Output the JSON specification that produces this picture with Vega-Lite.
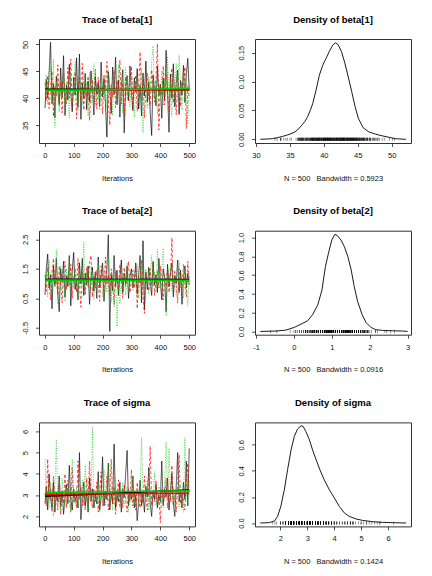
{
"$schema":"https://vega.github.io/schema/vega-lite/v6.json",
"padding":{"left":20,"top":14,"right":5,"bottom":5},
"background":"white",
"config":{
 "font":"Liberation Sans",
 "view":{"stroke":"#333","strokeWidth":1},
 "axis":{"domain":false,"grid":false,"tickColor":"#222","tickSize":3.5,"tickWidth":0.8,"labelFontSize":7.5,"labelColor":"#111","labelFont":"Liberation Sans","titleFont":"Liberation Sans","titleFontSize":7.5,"titleFontWeight":"normal","titleColor":"#111","labelPadding":5,"titlePadding":15,"labelFlush":false,"labelOverlap":false},
 "axisY":{"labelAngle":-90,"labelAlign":"center","labelBaseline":"bottom","labelPadding":6.5},
 "title":{"font":"Liberation Sans","fontSize":9.5,"fontWeight":"bold","color":"black","offset":15,"anchor":"middle"}
},
"datasets":{
"tr":[
{"i":1,"a1":38.2,"a2":42.9,"a3":40.6,"b1":0.62,"b2":1.3,"b3":0.95,"s1":2.6,"s2":3.1,"s3":4.7},
{"i":5,"a1":43.5,"a2":39.5,"a3":44.3,"b1":1.45,"b2":0.75,"b3":1.4,"s1":3.4,"s2":2.5,"s3":2.7},
{"i":10,"a1":40.1,"a2":44.2,"a3":38.8,"b1":2.0,"b2":1.55,"b3":0.55,"s1":2.3,"s2":4.7,"s3":3.2},
{"i":15,"a1":44.8,"a2":38.1,"a3":42.5,"b1":0.85,"b2":1.0,"b3":1.8,"s1":4.0,"s2":2.8,"s3":2.4},
{"i":20,"a1":50.4,"a2":41.8,"a3":45.9,"b1":1.3,"b2":0.45,"b3":1.15,"s1":2.9,"s2":3.3,"s3":3.6},
{"i":25,"a1":39.0,"a2":45.0,"a3":39.4,"b1":0.15,"b2":1.4,"b3":0.7,"s1":2.4,"s2":2.2,"s3":2.9},
{"i":30,"a1":42.7,"a2":36.6,"a3":47.2,"b1":1.6,"b2":1.85,"b3":1.35,"s1":3.6,"s2":3.9,"s3":2.0},
{"i":35,"a1":36.4,"a2":42.3,"a3":34.6,"b1":0.95,"b2":0.9,"b3":0.9,"s1":2.2,"s2":2.7,"s3":3.4},
{"i":40,"a1":44.1,"a2":40.4,"a3":41.9,"b1":1.85,"b2":1.2,"b3":2.15,"s1":3.1,"s2":3.0,"s3":5.6},
{"i":45,"a1":41.3,"a2":46.2,"a3":43.7,"b1":0.7,"b2":0.6,"b3":0.3,"s1":2.7,"s2":2.3,"s3":2.6},
{"i":50,"a1":38.9,"a2":38.7,"a3":37.4,"b1":0.05,"b2":1.6,"b3":1.25,"s1":3.9,"s2":3.5,"s3":3.0},
{"i":55,"a1":45.6,"a2":43.0,"a3":42.8,"b1":1.5,"b2":1.05,"b3":1.6,"s1":2.5,"s2":2.1,"s3":2.3},
{"i":60,"a1":40.2,"a2":37.3,"a3":40.0,"b1":1.05,"b2":0.35,"b3":0.8,"s1":3.2,"s2":3.2,"s3":3.8},
{"i":65,"a1":47.9,"a2":44.6,"a3":45.3,"b1":1.75,"b2":1.45,"b3":1.1,"s1":2.1,"s2":2.6,"s3":2.8},
{"i":70,"a1":36.8,"a2":41.2,"a3":38.2,"b1":0.55,"b2":1.75,"b3":0.4,"s1":2.9,"s2":4.0,"s3":2.5},
{"i":75,"a1":42.5,"a2":39.0,"a3":43.1,"b1":1.25,"b2":0.8,"b3":1.5,"s1":3.5,"s2":2.4,"s3":3.3},
{"i":80,"a1":39.7,"a2":45.7,"a3":41.4,"b1":0.9,"b2":1.3,"b3":1.0,"s1":2.6,"s2":3.7,"s3":2.7},
{"i":85,"a1":46.3,"a2":40.1,"a3":36.3,"b1":1.95,"b2":0.95,"b3":1.85,"s1":4.4,"s2":2.9,"s3":3.5},
{"i":90,"a1":41.0,"a2":47.3,"a3":44.6,"b1":0.25,"b2":1.65,"b3":0.65,"s1":2.8,"s2":2.2,"s3":2.2},
{"i":95,"a1":37.5,"a2":38.4,"a3":39.8,"b1":1.4,"b2":0.5,"b3":1.3,"s1":2.3,"s2":4.3,"s3":4.7},
{"i":100,"a1":43.9,"a2":42.0,"a3":42.2,"b1":2.05,"b2":1.2,"b3":0.9,"s1":3.3,"s2":2.7,"s3":3.0},
{"i":105,"a1":40.6,"a2":44.9,"a3":46.9,"b1":0.8,"b2":1.5,"b3":1.55,"s1":2.7,"s2":3.1,"s3":2.6},
{"i":110,"a1":47.5,"a2":36.2,"a3":40.5,"b1":1.15,"b2":0.7,"b3":1.2,"s1":3.0,"s2":2.4,"s3":3.4},
{"i":115,"a1":38.3,"a2":41.5,"a3":37.6,"b1":0.45,"b2":1.85,"b3":0.5,"s1":2.4,"s2":4.6,"s3":2.4},
{"i":120,"a1":48.2,"a2":43.8,"a3":43.4,"b1":1.7,"b2":1.0,"b3":1.45,"s1":5.0,"s2":2.8,"s3":3.1},
{"i":125,"a1":36.1,"a2":39.6,"a3":41.0,"b1":1.0,"b2":0.2,"b3":0.85,"s1":1.85,"s2":3.4,"s3":2.8},
{"i":130,"a1":42.8,"a2":46.5,"a3":38.9,"b1":1.85,"b2":1.35,"b3":1.05,"s1":2.9,"s2":2.5,"s3":3.7},
{"i":135,"a1":40.0,"a2":37.8,"a3":45.0,"b1":0.6,"b2":1.1,"b3":2.4,"s1":3.6,"s2":3.0,"s3":2.5},
{"i":140,"a1":44.6,"a2":42.7,"a3":40.3,"b1":1.35,"b2":0.65,"b3":0.6,"s1":2.5,"s2":2.3,"s3":4.4},
{"i":145,"a1":37.9,"a2":40.3,"a3":42.9,"b1":0.95,"b2":1.55,"b3":1.35,"s1":3.1,"s2":3.8,"s3":2.9},
{"i":150,"a1":43.2,"a2":44.1,"a3":36.7,"b1":1.6,"b2":0.9,"b3":1.0,"s1":2.2,"s2":2.6,"s3":2.3},
{"i":155,"a1":39.4,"a2":35.9,"a3":44.8,"b1":0.3,"b2":1.7,"b3":0.75,"s1":3.8,"s2":4.6,"s3":3.2},
{"i":160,"a1":45.1,"a2":41.0,"a3":39.1,"b1":1.2,"b2":1.95,"b3":1.6,"s1":2.7,"s2":2.9,"s3":2.7},
{"i":165,"a1":41.7,"a2":43.5,"a3":43.0,"b1":1.55,"b2":0.55,"b3":1.2,"s1":3.3,"s2":2.4,"s3":6.2},
{"i":170,"a1":36.9,"a2":39.2,"a3":46.4,"b1":0.75,"b2":1.25,"b3":0.45,"s1":2.4,"s2":3.3,"s3":2.4},
{"i":175,"a1":44.0,"a2":45.4,"a3":38.5,"b1":1.4,"b2":0.85,"b3":1.4,"s1":3.0,"s2":2.7,"s3":3.0},
{"i":180,"a1":40.8,"a2":38.0,"a3":42.0,"b1":0.5,"b2":1.45,"b3":0.95,"s1":2.6,"s2":3.6,"s3":2.6},
{"i":185,"a1":42.9,"a2":43.9,"a3":40.9,"b1":1.9,"b2":1.05,"b3":1.7,"s1":4.1,"s2":2.2,"s3":3.6},
{"i":190,"a1":38.5,"a2":40.7,"a3":37.8,"b1":0.85,"b2":0.4,"b3":0.85,"s1":2.3,"s2":3.0,"s3":2.2},
{"i":195,"a1":46.7,"a2":42.2,"a3":44.2,"b1":1.25,"b2":1.6,"b3":1.25,"s1":2.9,"s2":4.1,"s3":3.3},
{"i":200,"a1":40.3,"a2":37.1,"a3":41.7,"b1":1.7,"b2":1.15,"b3":0.55,"s1":4.8,"s2":2.5,"s3":2.8},
{"i":205,"a1":43.6,"a2":44.4,"a3":39.5,"b1":0.4,"b2":0.75,"b3":1.5,"s1":2.5,"s2":3.2,"s3":4.2},
{"i":210,"a1":39.1,"a2":41.3,"a3":43.8,"b1":1.1,"b2":1.9,"b3":1.1,"s1":3.2,"s2":2.8,"s3":2.5},
{"i":215,"a1":32.8,"a2":46.8,"a3":38.1,"b1":1.5,"b2":0.95,"b3":0.7,"s1":2.8,"s2":3.9,"s3":3.1},
{"i":220,"a1":44.9,"a2":39.9,"a3":45.4,"b1":2.65,"b2":1.3,"b3":1.9,"s1":4.5,"s2":2.3,"s3":4.5},
{"i":225,"a1":41.4,"a2":35.0,"a3":40.6,"b1":-0.62,"b2":0.6,"b3":1.0,"s1":2.3,"s2":3.1,"s3":2.7},
{"i":230,"a1":37.2,"a2":42.5,"a3":42.7,"b1":1.3,"b2":1.5,"b3":0.35,"s1":3.1,"s2":4.7,"s3":3.4},
{"i":235,"a1":45.8,"a2":40.2,"a3":36.8,"b1":0.75,"b2":1.0,"b3":1.3,"s1":2.6,"s2":2.6,"s3":2.3},
{"i":240,"a1":40.7,"a2":45.2,"a3":44.0,"b1":1.95,"b2":0.3,"b3":0.2,"s1":5.4,"s2":3.4,"s3":2.9},
{"i":245,"a1":47.6,"a2":38.3,"a3":41.2,"b1":0.9,"b2":1.4,"b3":1.45,"s1":2.4,"s2":2.1,"s3":3.8},
{"i":250,"a1":38.8,"a2":43.3,"a3":39.0,"b1":1.45,"b2":1.2,"b3":-0.45,"s1":3.0,"s2":2.9,"s3":2.6},
{"i":255,"a1":43.4,"a2":41.6,"a3":46.3,"b1":0.6,"b2":0.8,"b3":1.15,"s1":2.7,"s2":3.7,"s3":3.2},
{"i":260,"a1":36.5,"a2":47.1,"a3":40.1,"b1":1.2,"b2":1.65,"b3":0.3,"s1":3.6,"s2":2.5,"s3":2.4},
{"i":265,"a1":42.1,"a2":38.9,"a3":43.5,"b1":1.8,"b2":1.1,"b3":1.55,"s1":2.2,"s2":3.0,"s3":3.0},
{"i":270,"a1":45.3,"a2":42.8,"a3":37.3,"b1":0.7,"b2":0.5,"b3":0.8,"s1":3.3,"s2":2.4,"s3":3.6},
{"i":275,"a1":33.6,"a2":36.8,"a3":42.4,"b1":1.35,"b2":1.55,"b3":1.25,"s1":2.9,"s2":3.5,"s3":2.5},
{"i":280,"a1":41.9,"a2":44.0,"a3":45.7,"b1":1.0,"b2":0.9,"b3":0.6,"s1":4.0,"s2":2.8,"s3":2.8},
{"i":285,"a1":44.2,"a2":40.8,"a3":39.7,"b1":1.6,"b2":1.3,"b3":1.7,"s1":5.1,"s2":2.2,"s3":3.4},
{"i":290,"a1":39.6,"a2":39.4,"a3":41.8,"b1":0.5,"b2":1.75,"b3":1.05,"s1":2.5,"s2":3.3,"s3":2.2},
{"i":295,"a1":46.0,"a2":43.6,"a3":38.4,"b1":1.25,"b2":0.7,"b3":0.9,"s1":3.2,"s2":2.7,"s3":3.1},
{"i":300,"a1":40.9,"a2":45.9,"a3":44.5,"b1":1.5,"b2":1.05,"b3":1.4,"s1":2.8,"s2":4.2,"s3":2.7},
{"i":305,"a1":37.7,"a2":38.2,"a3":42.3,"b1":0.85,"b2":1.45,"b3":0.75,"s1":3.9,"s2":2.5,"s3":3.9},
{"i":310,"a1":43.8,"a2":41.4,"a3":36.5,"b1":1.15,"b2":0.85,"b3":1.2,"s1":2.4,"s2":3.1,"s3":2.5},
{"i":315,"a1":41.2,"a2":44.3,"a3":40.7,"b1":1.7,"b2":1.6,"b3":0.95,"s1":3.0,"s2":2.3,"s3":3.2},
{"i":320,"a1":45.5,"a2":37.6,"a3":43.9,"b1":0.65,"b2":0.15,"b3":1.65,"s1":1.8,"s2":3.6,"s3":2.9},
{"i":325,"a1":38.0,"a2":42.1,"a3":39.2,"b1":1.3,"b2":1.25,"b3":0.5,"s1":2.7,"s2":2.8,"s3":2.4},
{"i":330,"a1":42.4,"a2":48.6,"a3":41.5,"b1":1.95,"b2":1.0,"b3":1.35,"s1":3.7,"s2":2.4,"s3":3.5},
{"i":335,"a1":36.7,"a2":39.7,"a3":45.6,"b1":0.35,"b2":1.8,"b3":1.0,"s1":2.5,"s2":3.2,"s3":5.7},
{"i":340,"a1":44.7,"a2":43.4,"a3":33.6,"b1":2.45,"b2":0.55,"b3":1.85,"s1":3.1,"s2":2.6,"s3":2.6},
{"i":345,"a1":40.4,"a2":36.4,"a3":42.6,"b1":0.1,"b2":0.0,"b3":0.85,"s1":2.2,"s2":3.9,"s3":3.0},
{"i":350,"a1":46.9,"a2":41.9,"a3":40.4,"b1":1.4,"b2":1.35,"b3":1.5,"s1":3.4,"s2":2.9,"s3":2.8},
{"i":355,"a1":39.3,"a2":44.7,"a3":38.3,"b1":0.8,"b2":1.1,"b3":1.1,"s1":2.9,"s2":2.3,"s3":3.7},
{"i":360,"a1":43.1,"a2":40.0,"a3":44.1,"b1":1.55,"b2":0.75,"b3":0.65,"s1":4.3,"s2":3.4,"s3":2.3},
{"i":365,"a1":37.4,"a2":38.6,"a3":41.3,"b1":1.05,"b2":1.5,"b3":1.25,"s1":2.6,"s2":5.3,"s3":3.3},
{"i":370,"a1":33.1,"a2":45.3,"a3":46.7,"b1":0.6,"b2":0.95,"b3":1.95,"s1":2.0,"s2":2.5,"s3":2.7},
{"i":375,"a1":44.3,"a2":42.4,"a3":49.7,"b1":1.75,"b2":1.7,"b3":0.9,"s1":3.2,"s2":3.0,"s3":3.1},
{"i":380,"a1":41.6,"a2":39.3,"a3":39.9,"b1":0.95,"b2":0.6,"b3":1.4,"s1":2.8,"s2":2.7,"s3":4.1},
{"i":385,"a1":38.6,"a2":43.7,"a3":43.3,"b1":1.3,"b2":1.2,"b3":0.7,"s1":3.5,"s2":3.7,"s3":2.5},
{"i":390,"a1":45.9,"a2":50.1,"a3":37.0,"b1":0.7,"b2":1.45,"b3":2.15,"s1":2.4,"s2":2.4,"s3":2.9},
{"i":395,"a1":40.5,"a2":34.1,"a3":42.1,"b1":1.85,"b2":0.85,"b3":1.05,"s1":3.0,"s2":3.1,"s3":3.4},
{"i":400,"a1":42.6,"a2":42.6,"a3":40.2,"b1":1.1,"b2":1.6,"b3":0.8,"s1":2.7,"s2":1.7,"s3":2.6},
{"i":405,"a1":36.3,"a2":40.5,"a3":45.1,"b1":0.45,"b2":1.05,"b3":1.55,"s1":4.6,"s2":3.3,"s3":3.0},
{"i":410,"a1":43.7,"a2":46.0,"a3":38.6,"b1":1.5,"b2":0.45,"b3":2.2,"s1":2.5,"s2":2.6,"s3":2.4},
{"i":415,"a1":39.8,"a2":38.8,"a3":43.6,"b1":1.2,"b2":1.3,"b3":0.95,"s1":3.3,"s2":2.9,"s3":3.6},
{"i":420,"a1":48.9,"a2":44.5,"a3":41.0,"b1":0.05,"b2":0.9,"b3":-0.1,"s1":2.9,"s2":3.8,"s3":5.5},
{"i":425,"a1":41.1,"a2":41.1,"a3":47.8,"b1":1.65,"b2":1.55,"b3":1.3,"s1":3.8,"s2":2.4,"s3":2.8},
{"i":430,"a1":33.7,"a2":37.5,"a3":39.3,"b1":0.9,"b2":0.7,"b3":1.0,"s1":2.3,"s2":3.2,"s3":5.2},
{"i":435,"a1":44.5,"a2":43.2,"a3":42.8,"b1":1.35,"b2":1.15,"b3":1.6,"s1":3.1,"s2":2.7,"s3":3.1},
{"i":440,"a1":40.0,"a2":45.6,"a3":36.6,"b1":1.7,"b2":2.55,"b3":0.75,"s1":4.0,"s2":4.4,"s3":2.7},
{"i":445,"a1":46.4,"a2":39.1,"a3":44.4,"b1":0.55,"b2":0.65,"b3":1.2,"s1":2.6,"s2":2.5,"s3":3.4},
{"i":450,"a1":38.4,"a2":42.0,"a3":40.8,"b1":1.25,"b2":1.4,"b3":1.45,"s1":2.0,"s2":3.0,"s3":2.5},
{"i":455,"a1":42.9,"a2":36.9,"a3":46.5,"b1":1.0,"b2":1.0,"b3":0.6,"s1":3.4,"s2":2.2,"s3":3.2},
{"i":460,"a1":45.2,"a2":44.8,"a3":39.6,"b1":1.8,"b2":0.35,"b3":1.1,"s1":5.0,"s2":3.5,"s3":2.9},
{"i":465,"a1":37.0,"a2":40.9,"a3":48.0,"b1":0.7,"b2":1.5,"b3":1.75,"s1":2.7,"s2":4.9,"s3":2.4},
{"i":470,"a1":43.3,"a2":38.5,"a3":41.9,"b1":1.45,"b2":1.2,"b3":0.85,"s1":3.2,"s2":2.6,"s3":3.5},
{"i":475,"a1":40.6,"a2":43.1,"a3":37.9,"b1":0.3,"b2":0.8,"b3":1.3,"s1":2.4,"s2":3.1,"s3":2.8},
{"i":480,"a1":46.1,"a2":41.7,"a3":44.9,"b1":1.15,"b2":1.65,"b3":0.5,"s1":3.6,"s2":2.8,"s3":2.2},
{"i":485,"a1":39.2,"a2":45.8,"a3":40.0,"b1":1.6,"b2":1.05,"b3":1.5,"s1":2.8,"s2":2.3,"s3":5.7},
{"i":490,"a1":44.4,"a2":34.4,"a3":43.0,"b1":0.85,"b2":0.55,"b3":1.05,"s1":4.6,"s2":3.6,"s3":3.0},
{"i":495,"a1":47.4,"a2":42.3,"a3":35.2,"b1":1.35,"b2":1.75,"b3":0.25,"s1":2.5,"s2":4.5,"s3":2.6},
{"i":500,"a1":41.5,"a2":40.2,"a3":42.5,"b1":0.95,"b2":1.1,"b3":1.4,"s1":5.2,"s2":3.0,"s3":3.7}
],
"d1":[
{"x":30.64,"y":0},{"x":31.5,"y":0.0005},{"x":32.4,"y":0.001},{"x":33.2,"y":0.003},{"x":33.9,"y":0.005},{"x":34.5,"y":0.007},{"x":35.0,"y":0.009},{"x":35.6,"y":0.012},{"x":36.1,"y":0.016},{"x":36.8,"y":0.025},{"x":37.2,"y":0.031},{"x":37.6,"y":0.039},{"x":38.0,"y":0.05},{"x":38.36,"y":0.062},{"x":38.85,"y":0.085},{"x":39.34,"y":0.111},{"x":39.83,"y":0.128},{"x":40.32,"y":0.14},{"x":40.8,"y":0.152},{"x":41.3,"y":0.163},{"x":41.7,"y":0.167},{"x":42.1,"y":0.164},{"x":42.6,"y":0.152},{"x":43.1,"y":0.132},{"x":43.6,"y":0.108},{"x":44.1,"y":0.083},{"x":44.6,"y":0.057},{"x":45.1,"y":0.036},{"x":45.8,"y":0.02},{"x":46.6,"y":0.013},{"x":47.6,"y":0.009},{"x":48.6,"y":0.006},{"x":49.6,"y":0.0035},{"x":50.6,"y":0.001},{"x":52.1,"y":0}
],
"d2":[
{"x":-0.886,"y":0},{"x":-0.47,"y":0.004},{"x":-0.21,"y":0.014},{"x":0.01,"y":0.043},{"x":0.19,"y":0.078},{"x":0.36,"y":0.113},{"x":0.49,"y":0.177},{"x":0.63,"y":0.284},{"x":0.74,"y":0.443},{"x":0.83,"y":0.69},{"x":0.92,"y":0.85},{"x":1.0,"y":0.975},{"x":1.08,"y":1.035},{"x":1.15,"y":1.02},{"x":1.24,"y":0.975},{"x":1.33,"y":0.904},{"x":1.42,"y":0.8},{"x":1.51,"y":0.656},{"x":1.59,"y":0.479},{"x":1.68,"y":0.319},{"x":1.8,"y":0.177},{"x":1.9,"y":0.096},{"x":2.03,"y":0.043},{"x":2.16,"y":0.018},{"x":2.34,"y":0.011},{"x":2.6,"y":0.007},{"x":2.87,"y":0.004},{"x":3.0,"y":0}
],
"d3":[
{"x":1.257,"y":0},{"x":1.59,"y":0.003},{"x":1.78,"y":0.015},{"x":1.9,"y":0.051},{"x":2.02,"y":0.128},{"x":2.15,"y":0.255},{"x":2.27,"y":0.408},{"x":2.4,"y":0.56},{"x":2.52,"y":0.664},{"x":2.64,"y":0.72},{"x":2.77,"y":0.745},{"x":2.85,"y":0.74},{"x":2.95,"y":0.7},{"x":3.08,"y":0.638},{"x":3.2,"y":0.56},{"x":3.33,"y":0.485},{"x":3.47,"y":0.408},{"x":3.63,"y":0.332},{"x":3.82,"y":0.255},{"x":4.01,"y":0.191},{"x":4.19,"y":0.128},{"x":4.38,"y":0.077},{"x":4.56,"y":0.051},{"x":4.81,"y":0.031},{"x":5.06,"y":0.02},{"x":5.43,"y":0.01},{"x":5.8,"y":0.005},{"x":6.17,"y":0.0026},{"x":6.67,"y":0}
]
},
"bounds":"flush",
"spacing":191.7,
"vconcat":[
{"bounds":"flush","spacing":60,"hconcat":[
 {"width":156,"height":104,"title":"Trace of beta[1]","data":{"name":"tr"},
  "transform":[{"fold":["a1","a2","a3"],"as":["chain","v"]}],
  "encoding":{"x":{"field":"i","type":"quantitative","scale":{"domain":[-20,520],"nice":false,"zero":false},"axis":{"values":[0,100,200,300,400,500],"title":"Iterations","labelOverlap":false}},
   "y":{"field":"v","type":"quantitative","scale":{"domain":[31.7,51.0],"nice":false,"zero":false},"axis":{"values":[35,40,45,50],"title":null,"labelOverlap":false}},
   "color":{"field":"chain","type":"nominal","scale":{"domain":["a1","a2","a3"],"range":["black","red","#00CD00"]},"legend":null}},
  "layer":[
   {"mark":{"type":"line","strokeWidth":0.7,"clip":true},
    "encoding":{"strokeDash":{"field":"chain","type":"nominal","scale":{"domain":["a1","a2","a3"],"range":[[1,0],[3,2],[1,1.5]]},"legend":null}}},
   {"transform":[{"regression":"v","on":"i","groupby":["chain"]}],"mark":{"type":"line","strokeWidth":1.5}}
  ]},
 {"width":156,"height":104,"title":"Density of beta[1]",
  "encoding":{"x":{"field":"x","type":"quantitative","scale":{"domain":[29.85,52.85],"nice":false,"zero":false},"axis":{"values":[30,35,40,45,50],"labelOverlap":false,"title":"N = 500\u00a0\u00a0 Bandwidth = 0.5923"}}},
  "layer":[
   {"data":{"name":"d1"},"mark":{"type":"line","color":"black","strokeWidth":0.9},
    "encoding":{"y":{"field":"y","type":"quantitative","scale":{"domain":[-0.0064,0.1737],"nice":false,"zero":false},"axis":{"values":[0,0.05,0.1,0.15],"format":".2f","title":null,"labelOverlap":false}}}},
   {"data":{"name":"tr"},"transform":[{"fold":["a1","a2","a3"],"as":["chain","x"]}],
    "mark":{"type":"tick","orient":"vertical","color":"black","size":3,"thickness":0.6},
    "encoding":{"y":{"datum":0,"type":"quantitative","axis":{"values":[0,0.05,0.1,0.15],"format":".2f","title":null,"labelOverlap":false}}}}
  ]}
]},
{"bounds":"flush","spacing":60,"hconcat":[
 {"width":156,"height":104,"title":"Trace of beta[2]","data":{"name":"tr"},
  "transform":[{"fold":["b1","b2","b3"],"as":["chain","v"]}],
  "encoding":{"x":{"field":"i","type":"quantitative","scale":{"domain":[-20,520],"nice":false,"zero":false},"axis":{"values":[0,100,200,300,400,500],"title":"Iterations","labelOverlap":false}},
   "y":{"field":"v","type":"quantitative","scale":{"domain":[-0.73,2.79],"nice":false,"zero":false},"axis":{"values":[-0.5,0.5,1.5,2.5],"format":".1f","labelExpr":"replace(datum.label, '\u2212', '-')","title":null,"labelOverlap":false}},
   "color":{"field":"chain","type":"nominal","scale":{"domain":["b1","b2","b3"],"range":["black","red","#00CD00"]},"legend":null}},
  "layer":[
   {"mark":{"type":"line","strokeWidth":0.7,"clip":true},
    "encoding":{"strokeDash":{"field":"chain","type":"nominal","scale":{"domain":["b1","b2","b3"],"range":[[1,0],[3,2],[1,1.5]]},"legend":null}}},
   {"transform":[{"regression":"v","on":"i","groupby":["chain"]}],"mark":{"type":"line","strokeWidth":1.5}}
  ]},
 {"width":156,"height":104,"title":"Density of beta[2]",
  "encoding":{"x":{"field":"x","type":"quantitative","scale":{"domain":[-1.026,3.087],"nice":false,"zero":false},"axis":{"values":[-1,0,1,2,3],"labelOverlap":false,"labelExpr":"replace(datum.label, '\u2212', '-')","title":"N = 500\u00a0\u00a0 Bandwidth = 0.0916"}}},
  "layer":[
   {"data":{"name":"d2"},"mark":{"type":"line","color":"black","strokeWidth":0.9},
    "encoding":{"y":{"field":"y","type":"quantitative","scale":{"domain":[-0.035,1.074],"nice":false,"zero":false},"axis":{"values":[0,0.2,0.4,0.6,0.8,1.0],"format":".1f","title":null,"labelOverlap":false}}}},
   {"data":{"name":"tr"},"transform":[{"fold":["b1","b2","b3"],"as":["chain","x"]}],
    "mark":{"type":"tick","orient":"vertical","color":"black","size":3,"thickness":0.6},
    "encoding":{"y":{"datum":0,"type":"quantitative","axis":{"values":[0,0.2,0.4,0.6,0.8,1.0],"format":".1f","title":null,"labelOverlap":false}}}}
  ]}
]},
{"bounds":"flush","spacing":60,"hconcat":[
 {"width":156,"height":104,"title":"Trace of sigma","data":{"name":"tr"},
  "transform":[{"fold":["s1","s2","s3"],"as":["chain","v"]}],
  "encoding":{"x":{"field":"i","type":"quantitative","scale":{"domain":[-20,520],"nice":false,"zero":false},"axis":{"values":[0,100,200,300,400,500],"title":"Iterations","labelOverlap":false}},
   "y":{"field":"v","type":"quantitative","scale":{"domain":[1.53,6.42],"nice":false,"zero":false},"axis":{"values":[2,3,4,5,6],"title":null,"labelOverlap":false}},
   "color":{"field":"chain","type":"nominal","scale":{"domain":["s1","s2","s3"],"range":["black","red","#00CD00"]},"legend":null}},
  "layer":[
   {"mark":{"type":"line","strokeWidth":0.7,"clip":true},
    "encoding":{"strokeDash":{"field":"chain","type":"nominal","scale":{"domain":["s1","s2","s3"],"range":[[1,0],[3,2],[1,1.5]]},"legend":null}}},
   {"transform":[{"regression":"v","on":"i","groupby":["chain"]}],"mark":{"type":"line","strokeWidth":1.5}}
  ]},
 {"width":156,"height":104,"title":"Density of sigma",
  "encoding":{"x":{"field":"x","type":"quantitative","scale":{"domain":[1.06,6.855],"nice":false,"zero":false},"axis":{"values":[2,3,4,5,6],"labelOverlap":false,"title":"N = 500\u00a0\u00a0 Bandwidth = 0.1424"}}},
  "layer":[
   {"data":{"name":"d3"},"mark":{"type":"line","color":"black","strokeWidth":0.9},
    "encoding":{"y":{"field":"y","type":"quantitative","scale":{"domain":[-0.026,0.771],"nice":false,"zero":false},"axis":{"values":[0,0.2,0.4,0.6],"format":".1f","title":null,"labelOverlap":false}}}},
   {"data":{"name":"tr"},"transform":[{"fold":["s1","s2","s3"],"as":["chain","x"]}],
    "mark":{"type":"tick","orient":"vertical","color":"black","size":3,"thickness":0.6},
    "encoding":{"y":{"datum":0,"type":"quantitative","axis":{"values":[0,0.2,0.4,0.6],"format":".1f","title":null,"labelOverlap":false}}}}
  ]}
]}
]
}
